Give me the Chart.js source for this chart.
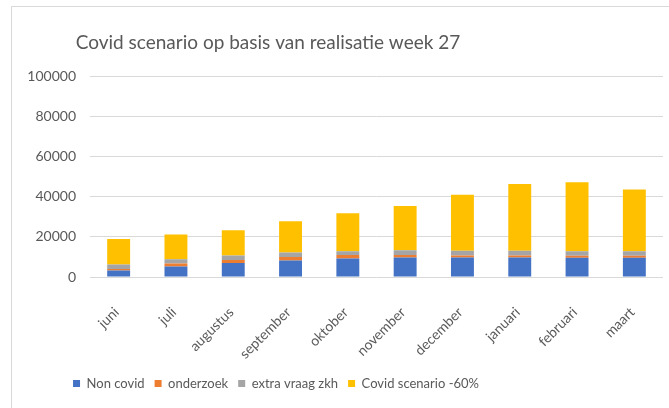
<!DOCTYPE html>
<html>
<head>
<meta charset="utf-8">
<script src="https://cdn.jsdelivr.net/npm/chart.js@4/dist/chart.umd.min.js"></script>
<style>
    html, body { margin: 0; padding: 0; background: #fff; }
    #wrap { position: relative; width: 669px; height: 408px; overflow: hidden; }
    #frame { position: absolute; left: 11px; top: 6px; width: 700px; height: 430px; border: 1px solid #d9d9d9; }
    #chart { position: absolute; left: 0; top: 0; }
</style>
</head>
<body>
<div id="wrap">
    <div id="frame"></div>
    <canvas id="chart" width="669" height="408"></canvas>
</div>
<script>
const MONTHS = ['juni', 'juli', 'augustus', 'september', 'oktober', 'november', 'december', 'januari', 'februari', 'maart'];

const NON_COVID = [3300, 5300, 7000, 8300, 9300, 9700, 9700, 9700, 9600, 9600];
const ONDERZOEK = [700, 1400, 1500, 1700, 1700, 1300, 1100, 1100, 1000, 1000];
const EXTRA_VRAAG = [2300, 2200, 2300, 2200, 1800, 2300, 2300, 2300, 2300, 2300];
const COVID_SCENARIO = [12700, 12300, 12500, 15600, 19000, 22200, 28000, 33400, 34400, 30800];

const Y_TICKS = [0, 20000, 40000, 60000, 80000, 100000];

const TEXT_COLOR = '#595959';
const FONT = 'Lato, "Open Sans", sans-serif';

// the source picture is cut off on the right, so title and legend sit left of centre
const TITLE_CENTER = 268;
const LEGEND_CENTER = 276;

const shiftBlocks = {
    id: 'shiftBlocks',
    afterLayout(chart) {
        const t = chart.titleBlock;
        const halfT = (t.right - t.left) / 2;
        t.left = TITLE_CENTER - halfT;
        t.right = TITLE_CENTER + halfT;
        const l = chart.legend;
        const halfL = (l.right - l.left) / 2;
        l.left = LEGEND_CENTER - halfL;
        l.right = LEGEND_CENTER + halfL;
    }
};

const ctx = document.getElementById('chart').getContext('2d');

new Chart(ctx, {
    type: 'bar',
    data: {
        labels: MONTHS,
        datasets: [
            { label: 'Non covid', data: NON_COVID, backgroundColor: '#4472C4' },
            { label: 'onderzoek', data: ONDERZOEK, backgroundColor: '#ED7D31' },
            { label: 'extra vraag zkh', data: EXTRA_VRAAG, backgroundColor: '#A5A5A5' },
            { label: 'Covid scenario -60%', data: COVID_SCENARIO, backgroundColor: '#FFC000' }
        ]
    },
    plugins: [shiftBlocks],
    options: {
        responsive: false,
        animation: false,
        layout: { padding: { left: 0, right: 6, top: 0, bottom: 8 } },
        datasets: { bar: { categoryPercentage: 1, barPercentage: 0.4 } },
        plugins: {
            title: {
                display: true,
                text: 'Covid scenario op basis van realisatie week 27',
                color: TEXT_COLOR,
                font: { family: FONT, size: 19, weight: 'normal' },
                padding: { top: 31, bottom: 23 }
            },
            legend: {
                position: 'bottom',
                labels: {
                    color: TEXT_COLOR,
                    font: { family: FONT, size: 13 },
                    boxWidth: 7,
                    boxHeight: 7,
                    padding: 10
                }
            },
            tooltip: { enabled: false }
        },
        scales: {
            x: {
                stacked: true,
                afterFit: scale => { scale.height = 90; },
                grid: { display: false },
                border: { display: false },
                ticks: {
                    color: TEXT_COLOR,
                    font: { family: FONT, size: 14 },
                    minRotation: 45,
                    maxRotation: 45,
                    padding: 19,
                    labelOffset: -2
                }
            },
            y: {
                stacked: true,
                min: 0,
                max: 100000,
                afterBuildTicks: scale => { scale.ticks = Y_TICKS.map(v => ({ value: v })); },
                afterFit: scale => { scale.width = 90; },
                grid: { color: '#d9d9d9', drawTicks: false },
                border: { display: false },
                ticks: {
                    color: TEXT_COLOR,
                    font: { family: FONT, size: 14 },
                    padding: 14,
                    callback: v => String(v)
                }
            }
        }
    }
});
</script>
</body>
</html>
